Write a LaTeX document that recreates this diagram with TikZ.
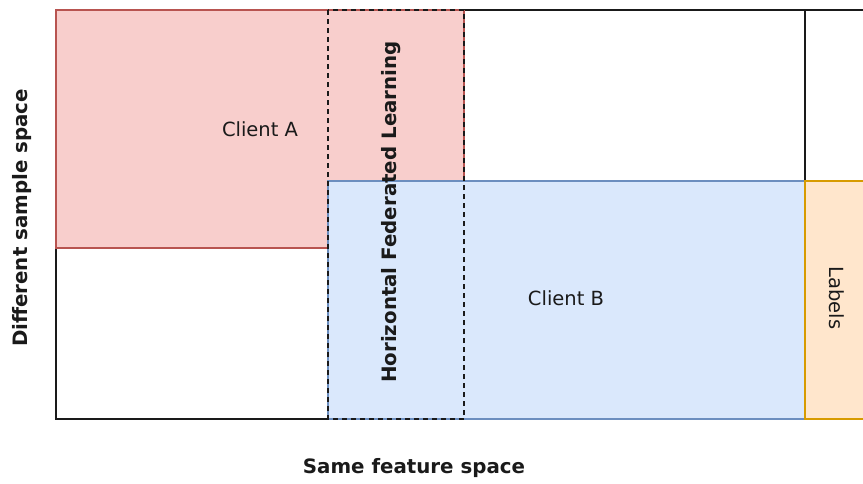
\documentclass[tikz,border=0pt]{standalone}
\usepackage{fontspec}
\setmainfont{DejaVu Sans}
\definecolor{redfill}{HTML}{F8CECC}
\definecolor{redline}{HTML}{B85450}
\definecolor{bluefill}{HTML}{DAE8FC}
\definecolor{blueline}{HTML}{6C8EBF}
\definecolor{orangefill}{HTML}{FFE6CC}
\definecolor{orangeline}{HTML}{D79B00}
\definecolor{ink}{HTML}{1A1A1A}
\usetikzlibrary{positioning}

\begin{document}
\begin{tikzpicture}[x=1pt,y=-1pt,
    txt/.style={font=\fontsize{19.5}{23}\selectfont, text=ink, inner sep=0pt},
    btxt/.style={txt, font=\fontsize{19.8}{23}\selectfont\bfseries}]
  \useasboundingbox (0,0) rectangle (863,483);
  \clip (0,0) rectangle (863,483);
  % frame of the data space
  \draw[ink, line width=1.8pt] (56,10) rectangle (880,419);
  \draw[ink, line width=1.8pt] (805,10) -- (805,181);
  % the two clients and the label column
  \draw[redline, fill=redfill, line width=1.3pt] (56,10) rectangle (464,248);
  \draw[blueline, fill=bluefill, line width=1.3pt] (328,181) rectangle (805,419);
  \draw[orangeline, fill=orangefill, line width=1.3pt] (805,181) rectangle (880,419);
  % shared feature block
  \draw[ink, dash pattern=on 5pt off 4pt, line width=1.3pt] (328,10) rectangle (464,419);
  \node[txt] (clientA) at (260,129) {Client A};
  \node[txt] (clientB) at (566,298) {Client B};
  \node[txt, rotate=-90] (labels) at (837,298) {Labels};
  \node[btxt, rotate=90] (hfl) at (391,212) {Horizontal Federated Learning};
  \node[btxt, rotate=90] (samples) at (22,218) {Different sample space};
  \node[btxt] (features) at (414,468) {Same feature space};
\end{tikzpicture}
\end{document}
